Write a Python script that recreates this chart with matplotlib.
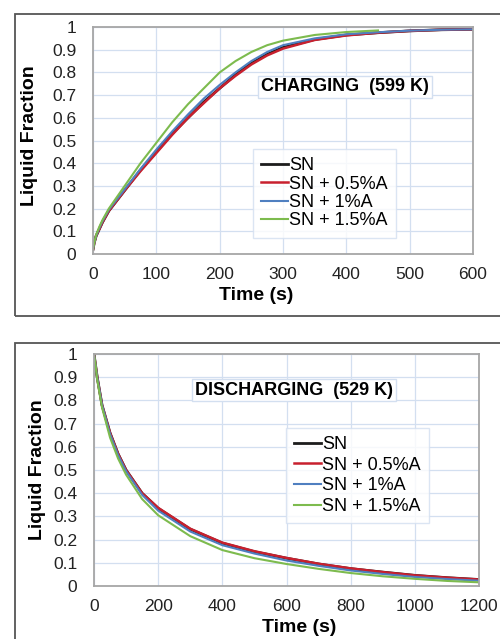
import matplotlib
matplotlib.use('Agg')
import matplotlib.pyplot as plt
from matplotlib.patches import Rectangle
from matplotlib.ticker import FuncFormatter, MultipleLocator

plt.rcParams['font.family'] = ['Liberation Sans', 'DejaVu Sans']

labels = ['SN', 'SN + 0.5%A', 'SN + 1%A', 'SN + 1.5%A']
colors = ['#1c1c1c', '#c8202e', '#4f7fc0', '#7dbb4e']

# charging (599 K)
t_ch = [0, 2, 5, 10, 15, 25, 50, 75, 100, 125, 150, 175, 200, 225, 250, 275, 300, 350, 400, 450, 500, 550, 600]
ch_sn = [0.02, 0.05, 0.08, 0.11, 0.14, 0.19, 0.28, 0.37, 0.45, 0.53, 0.60, 0.67, 0.73, 0.79, 0.84, 0.88, 0.91, 0.945, 0.965, 0.975, 0.983, 0.988, 0.99]
ch_05 = [0.02, 0.05, 0.08, 0.11, 0.14, 0.19, 0.28, 0.365, 0.445, 0.525, 0.60, 0.665, 0.73, 0.785, 0.835, 0.875, 0.905, 0.943, 0.963, 0.975, 0.983, 0.988, 0.99]
ch_1 = [0.02, 0.05, 0.08, 0.115, 0.145, 0.195, 0.285, 0.375, 0.46, 0.54, 0.615, 0.685, 0.745, 0.80, 0.85, 0.89, 0.92, 0.95, 0.968, 0.977, 0.984, 0.988, 0.99]
t_ch15 = [0, 2, 5, 10, 15, 25, 50, 75, 100, 125, 150, 175, 200, 225, 250, 275, 300, 350, 400, 450]
ch_15 = [0.02, 0.05, 0.085, 0.12, 0.15, 0.20, 0.30, 0.40, 0.49, 0.58, 0.66, 0.73, 0.80, 0.85, 0.89, 0.92, 0.94, 0.965, 0.978, 0.985]

# discharging (529 K)
t_dis = [0, 5, 10, 25, 50, 75, 100, 150, 200, 300, 400, 500, 600, 700, 800, 900, 1000, 1100, 1200]
dis_sn = [1.0, 0.95, 0.90, 0.78, 0.66, 0.57, 0.50, 0.40, 0.335, 0.245, 0.185, 0.148, 0.12, 0.095, 0.075, 0.06, 0.046, 0.036, 0.028]
dis_05 = [1.0, 0.95, 0.90, 0.78, 0.66, 0.57, 0.50, 0.40, 0.337, 0.247, 0.187, 0.15, 0.121, 0.096, 0.076, 0.06, 0.046, 0.036, 0.028]
dis_1 = [1.0, 0.95, 0.90, 0.78, 0.655, 0.565, 0.495, 0.393, 0.325, 0.235, 0.176, 0.14, 0.11, 0.087, 0.067, 0.052, 0.039, 0.03, 0.023]
dis_15 = [1.0, 0.95, 0.89, 0.77, 0.64, 0.55, 0.48, 0.375, 0.305, 0.215, 0.155, 0.12, 0.095, 0.074, 0.056, 0.042, 0.031, 0.022, 0.016]

fig = plt.figure(figsize=(5, 6.39), dpi=100)

# outer chart frames
fig.patches.append(Rectangle((15 / 500, 1 - 316 / 639), 0.99, 302 / 639, transform=fig.transFigure,
                             fill=False, edgecolor='#555555', lw=1.3))
fig.patches.append(Rectangle((15 / 500, -0.05), 0.99, 1 - 343 / 639 + 0.05, transform=fig.transFigure,
                             fill=False, edgecolor='#555555', lw=1.3))

ax1 = fig.add_axes([0.186, 0.6025, 0.76, 0.3552])
ax2 = fig.add_axes([0.188, 0.0829, 0.77, 0.363])


def style(ax, xmax, xstep):
    ax.set_xlim(0, xmax)
    ax.set_ylim(0, 1)
    ax.xaxis.set_major_locator(MultipleLocator(xstep))
    ax.yaxis.set_major_locator(MultipleLocator(0.1))
    ax.yaxis.set_major_formatter(FuncFormatter(lambda v, p: '%g' % round(v, 1)))
    ax.grid(True, color='#d3dff0', lw=0.9)
    ax.set_axisbelow(True)
    ax.tick_params(length=0, labelsize=12.5, colors='#222222')
    ax.tick_params(axis='y', pad=12)
    ax.tick_params(axis='x', pad=9)
    for s in ax.spines.values():
        s.set_color('#a6a6a6')
        s.set_linewidth(1.3)
    ax.set_ylabel('Liquid Fraction', fontsize=14, fontweight='bold')
    ax.set_xlabel('Time (s)', fontsize=14, fontweight='bold')


style(ax1, 600, 100)
ax1.plot(t_ch, ch_sn, color=colors[0], lw=2, label=labels[0])
ax1.plot(t_ch, ch_05, color=colors[1], lw=1.8, label=labels[1])
ax1.plot(t_ch, ch_1, color=colors[2], lw=1.5, label=labels[2])
ax1.plot(t_ch15, ch_15, color=colors[3], lw=1.5, label=labels[3])
ax1.yaxis.set_label_coords(-0.145, 0.52)
ax1.xaxis.set_label_coords(0.43, -0.145)
ax1.text(0.663, 0.736, 'CHARGING  (599 K)', transform=ax1.transAxes, ha='center', va='center',
         fontsize=13, fontweight='bold',
         bbox=dict(boxstyle='square,pad=0.15', fc='white', ec='#d3dff0', lw=1))
leg1 = ax1.legend(loc='upper left', bbox_to_anchor=(0.421, 0.4626), borderaxespad=0, fontsize=13,
                  frameon=True, fancybox=False, handlelength=1.5, handletextpad=0.05,
                  labelspacing=0.08, borderpad=0.45)
leg1.get_frame().set_edgecolor('#d3dff0')
leg1.get_frame().set_linewidth(1)

style(ax2, 1200, 200)
ax2.plot(t_dis, dis_sn, color=colors[0], lw=2, label=labels[0])
ax2.plot(t_dis, dis_05, color=colors[1], lw=1.8, label=labels[1])
ax2.plot(t_dis, dis_1, color=colors[2], lw=1.5, label=labels[2])
ax2.plot(t_dis, dis_15, color=colors[3], lw=1.5, label=labels[3])
ax2.yaxis.set_label_coords(-0.125, 0.5)
ax2.xaxis.set_label_coords(0.532, -0.142)
ax2.text(0.52, 0.845, 'DISCHARGING  (529 K)', transform=ax2.transAxes, ha='center', va='center',
         fontsize=13, fontweight='bold',
         bbox=dict(boxstyle='square,pad=0.15', fc='white', ec='#d3dff0', lw=1))
leg2 = ax2.legend(loc='upper left', bbox_to_anchor=(0.499, 0.681), borderaxespad=0, fontsize=13,
                  frameon=True, fancybox=False, handlelength=1.5, handletextpad=0.05,
                  labelspacing=0.2, borderpad=0.45)
leg2.get_frame().set_edgecolor('#d3dff0')
leg2.get_frame().set_linewidth(1)

fig.savefig('out.png', dpi=100)
